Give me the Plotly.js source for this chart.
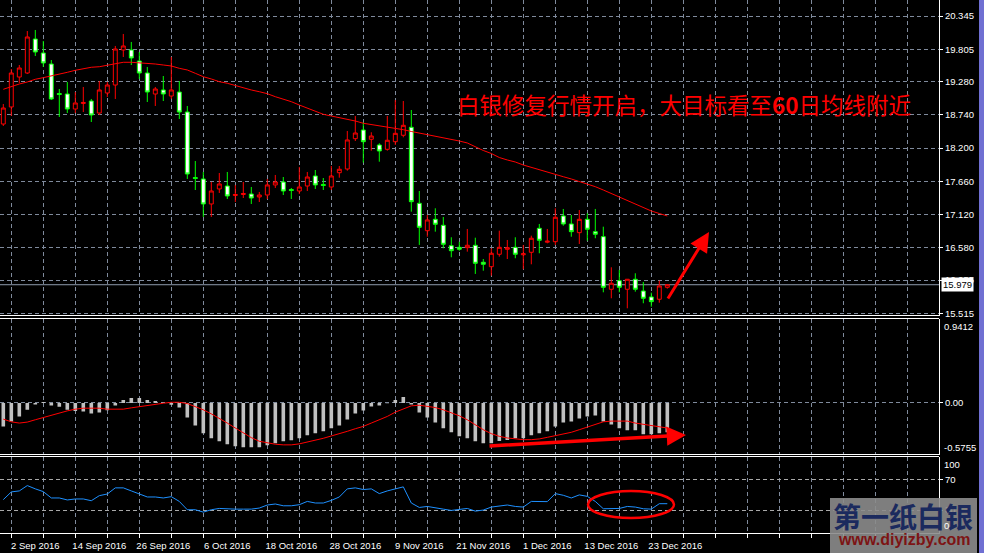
<!DOCTYPE html>
<html><head><meta charset="utf-8">
<script src="https://cdn.plot.ly/plotly-3.0.1.min.js"></script>
<style>html,body{margin:0;padding:0;background:#000;}#chart{width:984px;height:553px;}</style>
</head><body><div id="chart"></div>
<script>
// ---- Daily XAG/USD bars, 1 Sep 2016 .. 27 Dec 2016 ----
const open  = [18.590,18.867,19.354,19.419,19.971,19.744,19.565,19.086,19.078,18.834,18.924,18.964,18.769,19.094,19.224,19.793,19.793,19.614,19.419,19.078,19.143,19.045,19.110,18.785,17.721,17.697,17.291,17.535,17.583,17.429,17.445,17.453,17.405,17.437,17.600,17.648,17.526,17.502,17.583,17.746,17.608,17.567,17.799,17.859,18.352,18.493,18.342,18.249,18.179,18.303,18.407,18.537,17.302,16.857,17.042,16.945,16.613,16.587,16.581,16.620,16.344,16.272,16.474,16.555,16.587,16.466,16.506,16.896,16.670,16.678,17.096,16.966,16.825,17.042,16.841,16.760,15.905,16.045,15.905,16.068,15.877,15.780,15.743,15.937];
const high  = [18.915,19.484,19.549,20.101,20.118,19.939,19.630,19.159,19.273,19.110,19.192,18.997,19.289,19.273,19.858,20.053,19.923,19.760,19.517,19.192,19.370,19.679,19.289,18.883,17.989,17.811,17.648,17.794,17.811,17.600,17.648,17.567,17.486,17.697,17.762,17.729,17.551,17.892,17.811,17.843,17.713,17.908,17.908,18.477,18.721,18.618,18.456,18.277,18.721,18.980,18.964,18.818,17.502,17.112,17.221,17.080,16.750,16.678,16.885,16.743,16.397,16.571,16.857,16.706,16.750,16.625,16.776,16.966,16.885,17.221,17.210,17.112,17.193,17.140,17.210,16.922,16.262,16.219,16.072,16.165,16.024,15.850,16.045,15.991];
const low   = [18.558,18.721,19.257,19.403,19.695,19.517,18.980,18.704,18.769,18.769,18.785,18.623,18.737,19.029,18.997,19.679,19.549,19.322,18.948,18.883,18.964,18.997,18.672,17.697,17.518,17.080,17.080,17.470,17.372,17.323,17.388,17.291,17.323,17.372,17.551,17.437,17.372,17.453,17.502,17.535,17.518,17.518,17.718,17.832,18.314,17.962,18.157,17.978,18.157,18.249,18.374,17.166,16.625,16.759,16.841,16.571,16.425,16.532,16.516,16.154,16.207,16.126,16.435,16.397,16.409,16.230,16.311,16.490,16.652,16.625,16.938,16.759,16.641,16.695,16.734,15.856,15.759,15.856,15.596,15.866,15.678,15.622,15.687,15.915];
const close = [18.850,19.419,19.500,20.004,19.760,19.582,18.997,19.070,18.834,18.932,18.940,18.737,19.143,19.224,19.809,19.858,19.663,19.419,19.110,19.159,19.078,19.143,18.785,17.778,17.705,17.291,17.502,17.616,17.421,17.445,17.461,17.388,17.437,17.600,17.648,17.502,17.510,17.567,17.729,17.600,17.592,17.746,17.855,18.331,18.444,18.303,18.395,18.152,18.326,18.439,18.569,17.328,16.912,17.031,16.961,16.636,16.532,16.555,16.620,16.327,16.311,16.490,16.587,16.581,16.474,16.482,16.734,16.701,16.686,17.075,16.966,16.841,17.042,16.880,16.799,15.937,16.003,15.937,16.068,15.905,15.759,15.704,15.959,15.979];
const ma60  = [19.154,19.203,19.240,19.273,19.317,19.343,19.370,19.391,19.430,19.463,19.489,19.512,19.521,19.544,19.565,19.593,19.593,19.586,19.582,19.565,19.549,19.533,19.495,19.468,19.414,19.359,19.322,19.278,19.252,19.213,19.170,19.143,19.115,19.083,19.034,18.997,18.953,18.899,18.850,18.802,18.748,18.720,18.696,18.672,18.639,18.602,18.582,18.563,18.542,18.522,18.498,18.469,18.444,18.420,18.396,18.371,18.347,18.314,18.282,18.217,18.160,18.111,18.046,18.006,17.973,17.924,17.884,17.843,17.811,17.770,17.734,17.697,17.656,17.616,17.572,17.518,17.461,17.405,17.356,17.299,17.242,17.177,17.136,17.096];
// ---- MACD panel ----
const macdHist = [-0.262,-0.207,-0.151,-0.077,-0.018,0.010,-0.030,-0.044,-0.077,-0.089,-0.096,-0.118,-0.107,-0.081,-0.030,0.033,0.055,0.055,0.033,0.022,0.005,-0.022,-0.052,-0.162,-0.251,-0.339,-0.395,-0.428,-0.461,-0.483,-0.494,-0.494,-0.494,-0.472,-0.450,-0.428,-0.417,-0.395,-0.362,-0.339,-0.317,-0.284,-0.251,-0.185,-0.118,-0.085,-0.041,-0.030,-0.005,0.033,0.066,-0.018,-0.107,-0.162,-0.218,-0.284,-0.328,-0.373,-0.395,-0.428,-0.450,-0.450,-0.424,-0.413,-0.395,-0.395,-0.362,-0.339,-0.317,-0.262,-0.218,-0.207,-0.173,-0.151,-0.140,-0.207,-0.240,-0.284,-0.306,-0.306,-0.351,-0.351,-0.339,-0.328];
const macdSignal = [-0.181,-0.211,-0.225,-0.214,-0.188,-0.162,-0.133,-0.114,-0.089,-0.070,-0.059,-0.059,-0.059,-0.070,-0.070,-0.070,-0.055,-0.041,-0.026,-0.015,-0.004,0.007,0.007,-0.007,-0.041,-0.077,-0.122,-0.170,-0.225,-0.280,-0.336,-0.387,-0.428,-0.446,-0.461,-0.468,-0.468,-0.457,-0.439,-0.417,-0.395,-0.369,-0.347,-0.317,-0.288,-0.262,-0.225,-0.188,-0.151,-0.103,-0.070,-0.033,-0.026,-0.041,-0.052,-0.077,-0.107,-0.144,-0.188,-0.244,-0.299,-0.343,-0.373,-0.391,-0.402,-0.410,-0.410,-0.402,-0.384,-0.365,-0.343,-0.328,-0.299,-0.269,-0.236,-0.211,-0.203,-0.203,-0.203,-0.225,-0.240,-0.251,-0.269,-0.280];
const macdMax = 0.9412, macdMin = -0.5755;
// ---- RSI panel ----
const rsi = [43.6,53.7,55.0,62.0,57.7,54.1,45.8,45.8,43.2,44.5,44.5,42.2,48.8,51.0,59.0,59.0,55.0,51.0,47.1,47.1,45.8,47.5,41.3,30.4,30.4,27.3,30.4,32.1,31.2,31.2,31.2,31.2,32.6,36.6,37.9,35.6,35.6,37.0,41.3,39.2,39.2,42.6,47.1,57.7,59.0,56.8,57.7,51.5,55.0,57.7,60.3,39.2,33.4,34.7,33.4,31.2,29.5,30.4,32.1,28.6,30.0,33.9,35.6,36.6,34.7,33.9,41.3,41.0,41.0,51.5,49.3,45.8,49.8,47.9,41.3,31.7,31.7,32.1,34.7,33.9,31.7,31.2,38.3,38.3];
// ---- axis labels ----
const dateLabels = ["2 Sep 2016","14 Sep 2016","26 Sep 2016","6 Oct 2016","18 Oct 2016","28 Oct 2016","9 Nov 2016","21 Nov 2016","1 Dec 2016","13 Dec 2016","23 Dec 2016"];
const priceTicks = [20.345,19.805,19.280,18.740,18.200,17.660,17.120,16.580,16.055,15.515];
const rsiTicks = [30,70];
const titleText = "白银修复行情开启，大目标看至<b>60</b>日均线附近";

const idx = open.map((_, i) => i);
const lastClose = close[close.length - 1];

// x grid every 4 bars, date label every 8 bars (starting at bar 1)
const xTickVals = [], xTickText = [];
for (let v = 1, n = 0; v < 117; v += 4, n++) {
  xTickVals.push(v);
  xTickText.push(n % 2 === 0 ? (dateLabels[n / 2] || '') : '');
}

const GRID = '#7f8a9c';
const FONT = 'Liberation Sans, Arial, sans-serif';
const tf = {family: FONT, size: 9.5, color: '#ffffff'};

const traces = [
  {type: 'candlestick', x: idx, open: open, high: high, low: low, close: close,
   xaxis: 'x', yaxis: 'y',
   increasing: {line: {color: '#ff0000', width: 1}, fillcolor: '#000000'},
   decreasing: {line: {color: '#00ff00', width: 1}, fillcolor: '#ffffff'},
   whiskerwidth: 0, hoverinfo: 'skip'},
  {type: 'scatter', mode: 'lines', x: idx, y: ma60, xaxis: 'x', yaxis: 'y',
   line: {color: '#ff0000', width: 1, shape: 'linear'}, hoverinfo: 'skip'},
  {type: 'bar', x: idx, y: macdHist, xaxis: 'x', yaxis: 'y2', width: 0.45,
   marker: {color: '#c0c0c0', line: {width: 0}}, hoverinfo: 'skip'},
  {type: 'scatter', mode: 'lines', x: idx, y: macdSignal, xaxis: 'x', yaxis: 'y2',
   line: {color: '#ff0000', width: 1}, hoverinfo: 'skip'},
  {type: 'scatter', mode: 'lines', x: idx, y: rsi, xaxis: 'x', yaxis: 'y3',
   line: {color: '#1e90ff', width: 1}, hoverinfo: 'skip'}
];

// plot area: x 0..939 px, y 0..533 px
const PW = 939, PH = 533;
const xp = px => px / PW;
const yp = py => (PH - py) / PH;

const yCommon = {side: 'right', anchor: 'x', showgrid: true, gridcolor: GRID, griddash: '4px,3px', gridwidth: 1,
  ticks: 'outside', ticklen: 3, tickcolor: '#ffffff', tickfont: tf, showline: true, linecolor: '#ffffff',
  linewidth: 1, zeroline: false, fixedrange: true, tickmode: 'array'};

const hline = py => ({type: 'line', xref: 'paper', yref: 'paper', x0: 0, x1: 1, y0: yp(py), y1: yp(py),
  line: {color: '#ffffff', width: 1}});

const layout = {
  width: 984, height: 553,
  margin: {l: 0, r: 45, t: 0, b: 20, pad: 0},
  paper_bgcolor: '#000000', plot_bgcolor: '#000000',
  showlegend: false, hovermode: false, dragmode: false,
  barmode: 'overlay',
  xaxis: {range: [-0.4125, 116.96], anchor: 'y3', tickmode: 'array', tickvals: xTickVals, ticktext: xTickText,
    showgrid: true, gridcolor: GRID, griddash: '4px,3px', gridwidth: 1,
    ticks: 'outside', ticklen: 4, tickcolor: '#ffffff', tickfont: tf, ticklabelshift: 24,
    showline: true, linecolor: '#ffffff', zeroline: false, fixedrange: true,
    rangeslider: {visible: false}},
  yaxis: Object.assign({}, yCommon, {domain: [yp(315.5), 1], range: [15.479, 20.605],
    tickvals: priceTicks, ticktext: priceTicks.map(v => v.toFixed(3))}),
  yaxis2: Object.assign({}, yCommon, {domain: [yp(454.5), yp(318.5)], range: [macdMin, macdMax],
    tickvals: [0], ticktext: ['0.00']}),
  yaxis3: Object.assign({}, yCommon, {domain: [0, yp(456.5)], range: [0, 100],
    tickvals: rsiTicks, ticktext: rsiTicks.map(String), gridcolor: '#a9a9a9'}),
  shapes: [
    hline(315.5), hline(318.5), hline(454.5), hline(456.5),
    // last price (bid) line
    {type: 'line', xref: 'paper', x0: 0, x1: 1, yref: 'y', y0: lastClose, y1: lastClose, layer: 'below',
     line: {color: '#8e9aac', width: 1}},
    // right edge strip
    {type: 'rect', xref: 'paper', yref: 'paper', x0: xp(979), x1: xp(990), y0: yp(560), y1: yp(-5),
     fillcolor: '#6f6fd2', line: {width: 0}},
    // hand-drawn ellipse in RSI panel
    {type: 'circle', xref: 'paper', yref: 'paper', x0: xp(588), x1: xp(674), y0: yp(518), y1: yp(491),
     line: {color: '#ff0000', width: 2.5}},
    // watermark box
    {type: 'rect', xref: 'paper', yref: 'paper', x0: xp(830), x1: xp(977), y0: yp(560), y1: yp(498),
     fillcolor: 'rgba(140,140,140,0.9)', line: {width: 0}}
  ],
  annotations: [
    {xref: 'paper', yref: 'paper', x: xp(684), y: yp(104), text: titleText, showarrow: false,
     font: {family: 'Noto Sans CJK SC', size: 22.5, color: '#ff0000'}, xanchor: 'center', yanchor: 'middle'},
    {xref: 'paper', yref: 'y2', x: 1, y: macdMax, xanchor: 'left', yanchor: 'top', xshift: 3, showarrow: false,
     text: macdMax.toFixed(4), font: tf},
    {xref: 'paper', yref: 'y2', x: 1, y: macdMin, xanchor: 'left', yanchor: 'bottom', xshift: 3, showarrow: false,
     text: macdMin.toFixed(4), font: tf},
    {xref: 'paper', yref: 'y3', x: 1, y: 100, xanchor: 'left', yanchor: 'top', xshift: 3, showarrow: false,
     text: '100', font: tf},
    {xref: 'paper', yref: 'y3', x: 1, y: 0, xanchor: 'left', yanchor: 'bottom', xshift: 3, showarrow: false,
     text: '0', font: tf},
    {xref: 'paper', yref: 'y', x: 1, y: lastClose, xanchor: 'left', yanchor: 'middle', xshift: 2, showarrow: false,
     text: lastClose.toFixed(3), bgcolor: '#ffffff', borderpad: 1,
     font: {family: FONT, size: 9.5, color: '#000000'}},
    // arrows
    {xref: 'paper', yref: 'paper', x: xp(709), y: yp(232), ax: -42, ay: 68, text: '', showarrow: true,
     arrowcolor: '#ff0000', arrowwidth: 3, arrowhead: 2, arrowsize: 1.3, standoff: 0, startstandoff: 0},
    {xref: 'paper', yref: 'paper', x: xp(686), y: yp(435), ax: -198, ay: 11, text: '', showarrow: true,
     arrowcolor: '#ff0000', arrowwidth: 3.5, arrowhead: 2, arrowsize: 1.1, standoff: 0, startstandoff: 0},
    // watermark
    {xref: 'paper', yref: 'paper', x: xp(903), y: yp(516), text: '<b>第一纸白银</b>', showarrow: false,
     font: {family: 'Noto Sans CJK SC', size: 28, color: '#1b2a5e'}, xanchor: 'center', yanchor: 'middle'},
    {xref: 'paper', yref: 'paper', x: xp(904), y: yp(539), text: '<b>www.diyizby.com</b>', showarrow: false,
     font: {family: FONT, size: 16, color: '#7d1414'}, xanchor: 'center', yanchor: 'middle'}
  ]
};

Plotly.newPlot('chart', traces, layout, {staticPlot: true, displayModeBar: false});
</script></body></html>
